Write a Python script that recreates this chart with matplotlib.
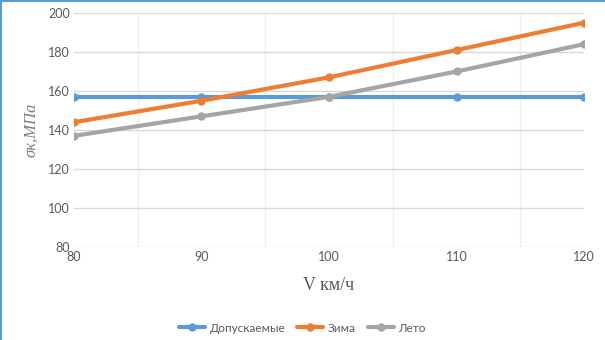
import matplotlib.pyplot as plt
from matplotlib.lines import Line2D

# data
speed = [80, 90, 100, 110, 120]
allowed = [157, 157, 157, 157, 157]
winter = [144, 155, 167, 181, 195]
summer = [137, 147, 157, 170, 184]
y_ticks = [80, 100, 120, 140, 160, 180, 200]
labels = ['Допускаемые', 'Зима', 'Лето']
colors = ['#5b9bd5', '#ed7d31', '#a5a5a5']

fig = plt.figure(figsize=(6.05, 3.4), dpi=100)
ax = fig.add_axes([0.1223, 0.2735, 0.843, 0.6883])

for vals, lab, col in zip([allowed, winter, summer], labels, colors):
    ax.plot(speed, vals, color=col, lw=3, marker='o', ms=5, label=lab,
            solid_capstyle='round')

ax.set_xlim(80, 120)
ax.set_ylim(80, 200)
ax.set_yticks(y_ticks)
ax.set_xticks(speed)
ax.set_xticks([85, 95, 105, 115], minor=True)
ax.grid(axis='y', which='major', color='#d9d9d9', lw=1)
ax.grid(axis='x', which='minor', color='#efefef', lw=1)
ax.set_axisbelow(True)
for s in ax.spines.values():
    s.set_visible(False)
ax.tick_params(which='both', length=0, labelsize=9, labelcolor='#595959',
               pad=3)
for t in ax.get_yticklabels() + ax.get_xticklabels():
    t.set_family('Lato')

ax.set_xlabel('V км/ч', family='Liberation Serif', fontsize=13,
              color='#595959', labelpad=10)
ax.set_ylabel('σк,МПа', family='Liberation Serif', style='italic',
              fontsize=12, color='#7f7f7f', labelpad=6)

fig.legend(loc='center', bbox_to_anchor=(0.5, 0.035), ncol=3, frameon=False,
           prop={'family': 'Lato', 'size': 8.5}, labelcolor='#595959',
           handlelength=2.2, columnspacing=1.0, handletextpad=0.4)

# chart border (only left and top edges visible in the reference)
fig.add_artist(Line2D([0.002, 0.002], [0, 1], transform=fig.transFigure,
                      color='#5b9bd5', lw=1.5))
fig.add_artist(Line2D([0, 1], [0.998, 0.998], transform=fig.transFigure,
                      color='#5b9bd5', lw=1.5))

fig.savefig('out.png', dpi=100)
